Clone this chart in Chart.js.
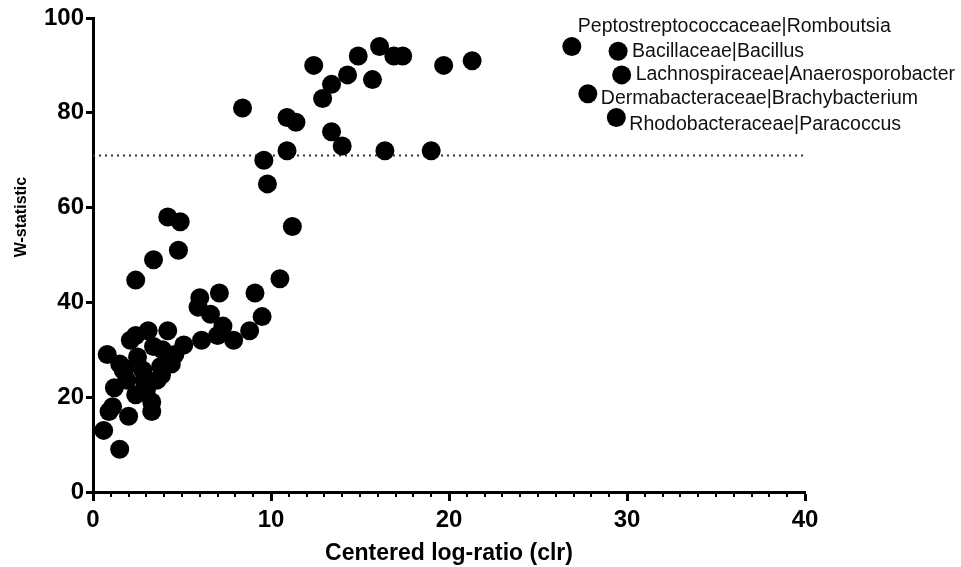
<!DOCTYPE html>
<html>
<head>
<meta charset="utf-8">
<script src="https://cdn.jsdelivr.net/npm/chart.js@4/dist/chart.umd.min.js"></script>
<style>
html, body { margin: 0; padding: 0; background: #fff; }
</style>
</head>
<body>
<canvas id="myCanvas" width="961" height="567"></canvas>
<script>
// taxa: centered log-ratio vs W-statistic
const clrValues = [
   0.6, 0.8, 0.9, 1.5, 1.2, 2.0, 1.1, 2.1, 2.4, 3.1, 4.2, 3.3, 3.3, 3.0, 2.9, 3.6,
   3.85, 3.8, 4.4, 5.1, 6.1, 7.0, 7.3, 7.9, 8.8, 5.9, 6.0, 6.6, 7.1, 9.1, 9.5, 10.5,
   2.4, 3.4, 4.8, 4.2, 4.9, 1.7, 1.9, 2.5, 2.8, 3.4, 3.9, 2.4, 1.5, 4.6, 1.8,
   8.4, 12.4, 10.9, 11.4, 10.9, 9.6, 9.8, 11.2, 12.9, 13.4, 14.3, 14.9, 16.1, 16.9, 17.4,
   15.7, 13.4, 14.0, 16.4, 19.0, 19.7, 21.3
];
const wValues = [
   13, 29, 17, 9, 22, 16, 18, 32, 33, 34, 34, 17, 19, 21.5, 23.3, 23.6,
   24.7, 26.5, 27, 31, 32, 33, 35, 32, 34, 39, 41, 37.5, 42, 42, 37, 45,
   44.7, 49, 51, 58, 57, 25.7, 23.6, 28.5, 25.7, 30.7, 30, 20.5, 27, 29, 26,
   81, 90, 79, 78, 72, 70, 65, 56, 83, 86, 88, 92, 94, 92, 92,
   87, 76, 73, 72, 72, 90, 91
];

// labelled taxa
const namedTaxa = [
   "Peptostreptococcaceae|Romboutsia",
   "Bacillaceae|Bacillus",
   "Lachnospiraceae|Anaerosporobacter",
   "Dermabacteraceae|Brachybacterium",
   "Rhodobacteraceae|Paracoccus"
];
const namedClr = [26.9, 29.5, 29.7, 27.8, 29.4];
const namedW = [94, 93, 88, 84, 79];

const cutoffW = 71;
const xRange = [0, 40];
const yRange = [0, 100];
const yTitle = 'W-statistic';

const toPoints = (xs, ys) => xs.map((x, i) => ({ x: x, y: ys[i] }));

// text next to the labelled points (pixel offsets from the point)
const labelOffsets = [[6, -20], [14, 0], [14, 0], [13, 5], [13, 7]];

const taxaLabels = {
   id: 'taxaLabels',
   afterDatasetsDraw(chart) {
      const ctx = chart.ctx;
      const xs = chart.scales.x, ys = chart.scales.y;
      ctx.save();
      ctx.fillStyle = '#111';
      ctx.font = '19.5px "Liberation Sans", Arial, sans-serif';
      ctx.textBaseline = 'middle';
      ctx.textAlign = 'left';
      namedTaxa.forEach((name, i) => {
         const px = xs.getPixelForValue(namedClr[i]);
         const py = ys.getPixelForValue(namedW[i]);
         ctx.fillText(name, px + labelOffsets[i][0], py + labelOffsets[i][1]);
      });
      ctx.restore();
   }
};

// short minor ticks every 1 unit on x axis, and the y title (sits above centre in the original)
const axisExtras = {
   id: 'axisExtras',
   afterDraw(chart) {
      const ctx = chart.ctx;
      const xs = chart.scales.x, ys = chart.scales.y;
      const y0 = chart.chartArea.bottom;
      ctx.save();
      ctx.strokeStyle = '#000';
      ctx.lineWidth = 2;
      for (let v = xRange[0]; v <= xRange[1]; v++) {
         if (v % 10 === 0) continue;
         const px = Math.round(xs.getPixelForValue(v));
         ctx.beginPath();
         ctx.moveTo(px, y0);
         ctx.lineTo(px, y0 + 5);
         ctx.stroke();
      }
      ctx.translate(22, ys.getPixelForValue(58));
      ctx.rotate(-Math.PI / 2);
      ctx.fillStyle = '#000';
      ctx.font = 'bold 16px "Liberation Sans", Arial, sans-serif';
      ctx.textAlign = 'center';
      ctx.textBaseline = 'middle';
      ctx.fillText(yTitle, 0, 0);
      ctx.restore();
   }
};

const boldFont = (size) => ({ family: '"Liberation Sans", Arial, sans-serif', size: size, weight: 'bold' });

new Chart(document.getElementById('myCanvas').getContext('2d'), {
   type: 'scatter',
   data: {
      datasets: [
         {
            label: 'taxa',
            data: toPoints(clrValues, wValues).concat(toPoints(namedClr, namedW)),
            backgroundColor: '#000',
            borderColor: '#000',
            borderWidth: 0,
            pointRadius: 9.5,
            order: 1
         },
         {
            type: 'line',
            label: 'cutoff',
            data: [{ x: xRange[0], y: cutoffW }, { x: xRange[1], y: cutoffW }],
            borderColor: '#333',
            borderWidth: 2,
            borderDash: [2, 4],
            pointRadius: 0,
            order: 2
         }
      ]
   },
   options: {
      responsive: false,
      animation: false,
      layout: { padding: { top: 18, right: 156, left: 0, bottom: 0 } },
      plugins: { legend: { display: false }, tooltip: { enabled: false } },
      scales: {
         x: {
            type: 'linear',
            min: xRange[0],
            max: xRange[1],
            ticks: { stepSize: 10, color: '#000', font: boldFont(24), padding: 5 },
            grid: { drawOnChartArea: false, tickLength: 9, tickWidth: 3, tickColor: '#000' },
            border: { width: 3, color: '#000' },
            title: { display: true, text: 'Centered log-ratio (clr)', color: '#000', font: boldFont(23), padding: { top: 0, bottom: 0 } },
            afterFit: (scale) => { scale.height = 75; }
         },
         y: {
            min: yRange[0],
            max: yRange[1],
            ticks: { stepSize: 20, color: '#000', font: boldFont(24), padding: 2 },
            grid: { drawOnChartArea: false, tickLength: 7, tickWidth: 3, tickColor: '#000' },
            border: { width: 3, color: '#000' },
            title: { display: false },
            afterFit: (scale) => { scale.width = 93; }
         }
      }
   },
   plugins: [taxaLabels, axisExtras]
});
</script>
</body>
</html>
